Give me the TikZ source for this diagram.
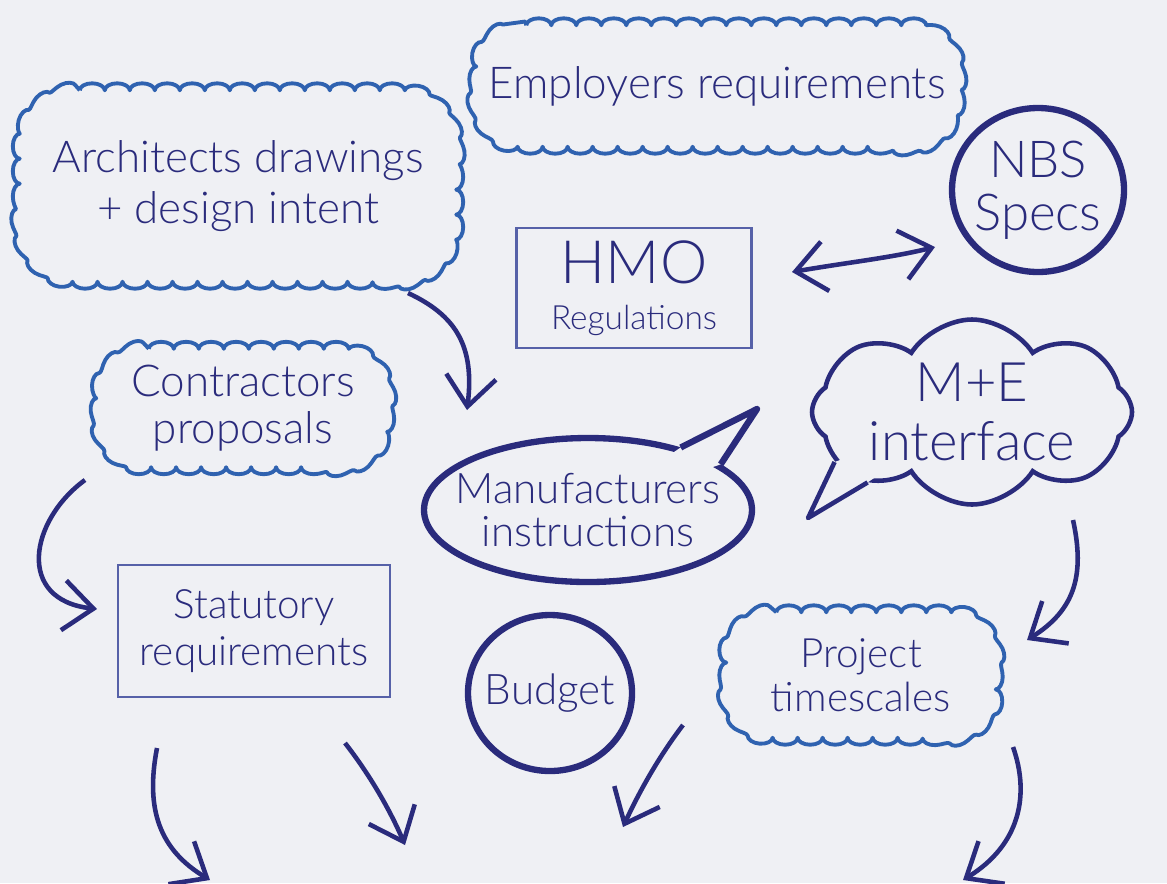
\documentclass[tikz,border=0pt]{standalone}
\usepackage{fontspec}
\setmainfont{Lato Light}
\usepackage{tikz}
\usetikzlibrary{positioning,arrows.meta,decorations.pathmorphing,shapes.geometric,shapes.symbols,calc}

\definecolor{paper}{HTML}{EFF0F4}
\definecolor{navy}{HTML}{2A2B7C}
\definecolor{skyline}{HTML}{2F62B0}
\definecolor{boxline}{HTML}{5661A8}

\tikzset{
  wavy/.style={text=navy, align=center, inner sep=0pt},
  wavyline/.style={draw=skyline, line width=1.1pt, line join=round,
    decorate, decoration={bumps, amplitude=0.7mm, segment length=5mm}},
  thinbox/.style={draw=boxline, line width=0.8pt, text=navy, align=center, inner sep=0pt},
  roundy/.style={ellipse, draw=navy, line width=1.8pt, text=navy, align=center, inner sep=0pt},
  penarrow/.style={draw=navy, line width=1.3pt, -{Straight Barb[length=3mm,width=5mm]}},
}

% wavy outline round a node: name, corner radius
\newcommand{\wavyedge}[2]{%
  \draw[wavyline] ([xshift=#2]#1.north west) -- ([xshift=-#2]#1.north east)
    arc[start angle=90, end angle=0, radius=#2] -- ([yshift=#2]#1.south east)
    arc[start angle=0, end angle=-90, radius=#2] -- ([xshift=#2]#1.south west)
    arc[start angle=270, end angle=180, radius=#2] -- ([yshift=-#2]#1.north west)
    arc[start angle=180, end angle=90, radius=#2] -- cycle;}

\begin{document}
\begin{tikzpicture}
        % Paper
        \fill[paper] (0,0) rectangle (11.67,-8.83);
        \useasboundingbox (0,0) rectangle (11.67,-8.83);

        % Employers requirements
        \node[wavy, minimum width=4.8cm, minimum height=1.2cm, font=\fontsize{12.5}{14}\selectfont] (emp) at (7.17,-0.86)
            {Employers requirements};
        \wavyedge{emp}{5mm}

        % Architects drawings + design intent
        \node[wavy, minimum width=4.35cm, minimum height=1.9cm, font=\fontsize{12.5}{14.5}\selectfont] (arch) at (2.38,-1.86)
            {Architects drawings\\ + design intent};
        \wavyedge{arch}{6mm}

        % NBS Specs
        \node[roundy, minimum width=1.72cm, minimum height=1.64cm, inner sep=-3mm, font=\fontsize{14.5}{15}\selectfont] (nbs) at (10.38,-1.9)
            {NBS\\ Specs};

        % HMO Regulations
        \node[thinbox, minimum width=2.35cm, minimum height=1.2cm, font=\fontsize{17}{17}\selectfont] (hmo) at (6.34,-2.88)
            {HMO\\[-4pt] {\fontsize{9.5}{10}\selectfont Regulations}};

        % Contractors proposals
        \node[wavy, minimum width=2.87cm, minimum height=1.17cm, font=\fontsize{12.5}{13.5}\selectfont] (contr) at (2.43,-4.08)
            {Contractors\\ proposals};
        \wavyedge{contr}{5mm}

        % Manufacturers instructions
        \node[roundy, minimum width=3.28cm, minimum height=1.44cm, inner sep=-6mm, font=\fontsize{12}{12}\selectfont] (manu) at (5.88,-5.1)
            {Manufacturers\\ instructions};
        \coordinate (manutip) at (7.57,-4.09);
        \fill[paper] (manutip) -- (manu.34) -- ($(manu.34)!0.1!(manu.center)$)
            -- ($(manu.19)!0.1!(manu.center)$) -- (manu.19) -- cycle;
        \draw[navy, line width=1.8pt, line join=round] (manu.34) -- (manutip) -- (manu.19);

        % M+E interface
        \node[cloud, cloud puffs=8, cloud puff arc=115, aspect=1.7, draw=navy, line width=1.3pt,
            text=navy, align=center, minimum width=3.2cm, minimum height=1.85cm, inner sep=-2mm,
            font=\fontsize{15.5}{17}\selectfont] (me) at (9.72,-4.12)
            {M+E\\ interface};
        \coordinate (metip) at (8.08,-5.18);
        \fill[paper] (metip) -- (me.200) -- ($(me.200)!0.12!(me.center)$)
            -- ($(me.214)!0.12!(me.center)$) -- (me.214) -- cycle;
        \draw[navy, line width=1.3pt, line join=round] (me.200) -- (metip) -- (me.214);

        % Statutory requirements
        \node[thinbox, minimum width=2.72cm, minimum height=1.32cm, font=\fontsize{11.5}{13.5}\selectfont] (stat) at (2.54,-6.31)
            {Statutory\\ requirements};

        % Budget
        \node[roundy, minimum width=1.64cm, minimum height=1.56cm, inner sep=-2mm, font=\fontsize{12}{13}\selectfont] (budget) at (5.5,-6.93)
            {Budget};

        % Project timescales
        \node[wavy, minimum width=2.68cm, minimum height=1.24cm, font=\fontsize{11.5}{12.5}\selectfont] (proj) at (8.61,-6.75)
            {Project\\ timescales};
        \wavyedge{proj}{5mm}

        % Connectors
        \coordinate (hmoR) at (7.92,-2.72);
        \coordinate (nbsL) at (9.35,-2.47);
        \draw[navy, line width=1.3pt, {Straight Barb[length=3mm,width=5mm]}-{Straight Barb[length=3mm,width=5mm]}]
            (hmoR) .. controls (8.5,-2.62) and (8.9,-2.58) .. (nbsL);

        \coordinate (archOut) at (4.08,-2.93);
        \coordinate (manuIn) at (4.67,-4.1);
        \draw[penarrow] (archOut) .. controls (4.55,-3.15) and (4.75,-3.45) .. (manuIn);

        \coordinate (contrOut) at (0.85,-4.8);
        \coordinate (statIn) at (0.97,-6.09);
        \draw[penarrow] (contrOut) .. controls (0.3,-5.2) and (0.15,-6.0) .. (statIn);

        \coordinate (meOut) at (10.73,-5.2);
        \coordinate (projIn) at (10.27,-6.4);
        \draw[penarrow] (meOut) .. controls (10.85,-5.75) and (10.75,-6.1) .. (projIn);

        % Arrows running off the page
        \coordinate (a1) at (1.57,-7.48);
        \coordinate (b1) at (2.1,-8.8);
        \draw[penarrow] (a1) .. controls (1.45,-8.1) and (1.6,-8.5) .. (b1);

        \coordinate (a2) at (3.45,-7.43);
        \coordinate (b2) at (4.05,-8.45);
        \draw[penarrow] (a2) .. controls (3.7,-7.75) and (3.9,-8.1) .. (b2);

        \coordinate (a3) at (6.83,-7.25);
        \coordinate (b3) at (6.23,-8.27);
        \draw[penarrow] (a3) .. controls (6.6,-7.55) and (6.4,-7.9) .. (b3);

        \coordinate (a4) at (10.13,-7.47);
        \coordinate (b4) at (9.63,-8.8);
        \draw[penarrow] (a4) .. controls (10.3,-7.95) and (10.2,-8.45) .. (b4);
\end{tikzpicture}
\end{document}
